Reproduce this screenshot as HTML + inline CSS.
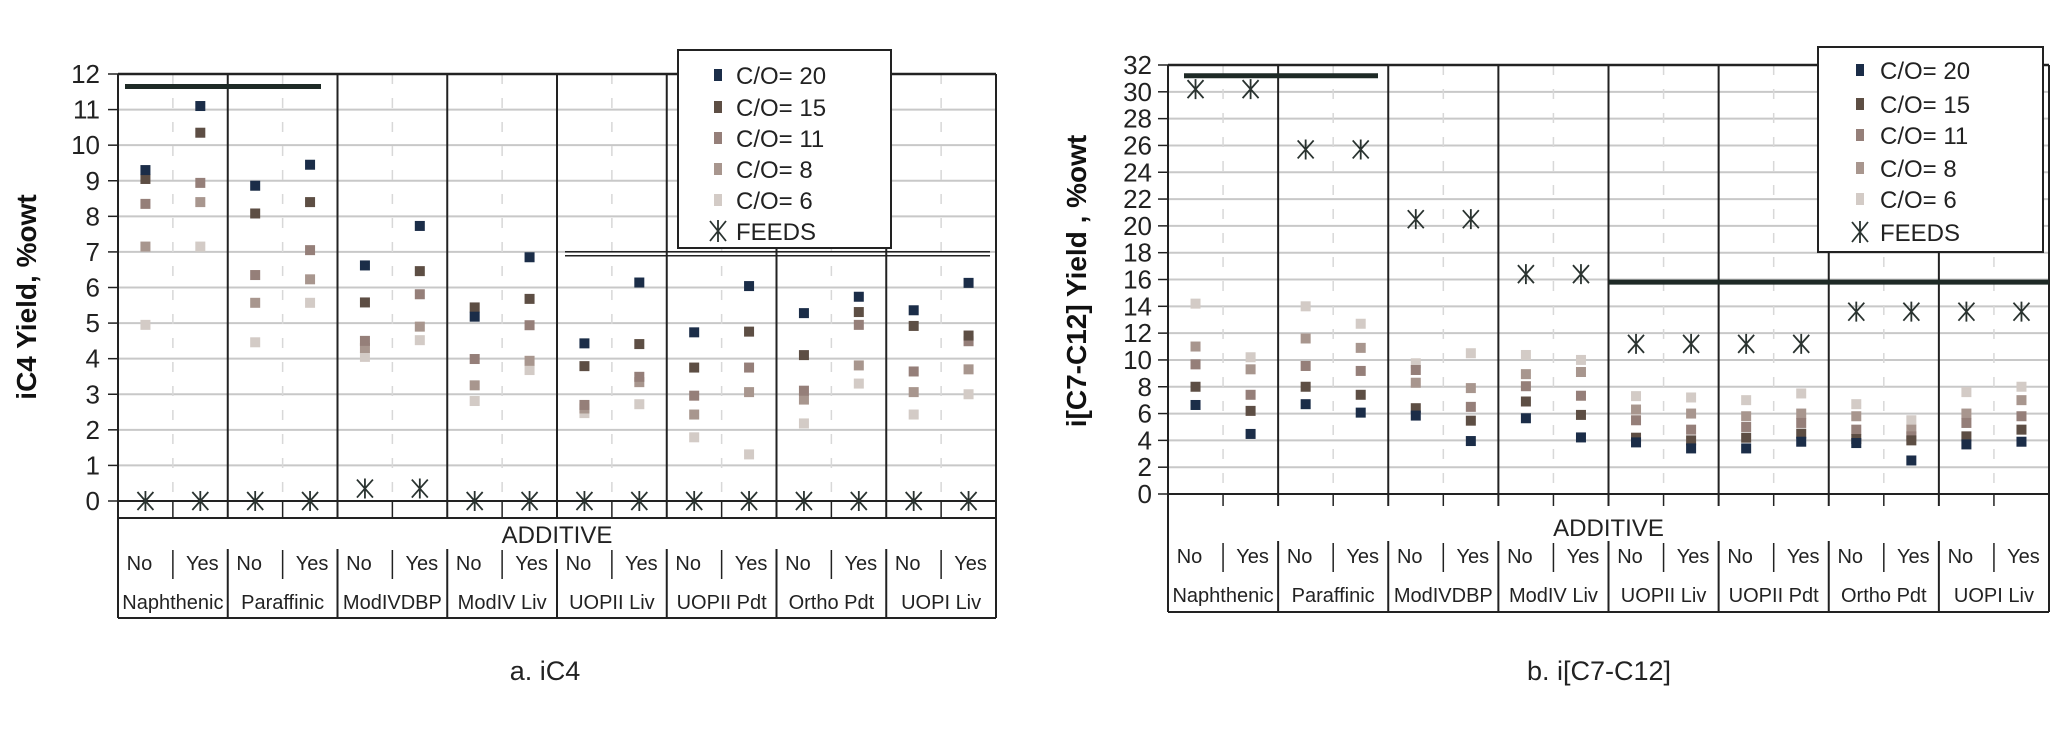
<!DOCTYPE html>
<html><head><meta charset="utf-8">
<style>
html,body{margin:0;padding:0;background:#fff;}
svg{display:block;font-family:"Liberation Sans",sans-serif;}
</style></head>
<body>
<svg id="chart" width="2062" height="752" viewBox="0 0 2062 752" xmlns="http://www.w3.org/2000/svg"></svg>
<script>
const categories = ["Naphthenic","Paraffinic","ModIVDBP","ModIV Liv","UOPII Liv","UOPII Pdt","Ortho Pdt","UOPI Liv"];
const additive = ["No","Yes"];
const seriesNames = ["C/O= 20","C/O= 15","C/O= 11","C/O= 8","C/O= 6"];
const seriesColors = ["#1b2d48","#5d4e44","#957f79","#a8968e","#d3cbc6"];
// Chart a: iC4 — 16 points per series (group x No/Yes)
const a_co20 = [9.3,11.1,8.86,9.45,6.62,7.73,5.18,6.85,4.43,6.14,4.74,6.04,5.28,5.74,5.36,6.13];
const a_co15 = [9.05,10.35,8.08,8.4,5.58,6.46,5.44,5.68,3.79,4.41,3.75,4.76,4.1,5.31,4.92,4.65];
const a_co11 = [8.35,8.94,6.35,7.05,4.5,5.81,3.99,4.94,2.7,3.49,2.96,3.75,3.1,4.95,3.64,4.49];
const a_co8 = [7.15,8.4,5.57,6.23,4.3,4.9,3.25,3.94,2.6,3.34,2.43,3.06,2.85,3.81,3.06,3.7];
const a_co6 = [4.95,7.15,4.46,5.57,4.05,4.52,2.81,3.68,2.47,2.72,1.79,1.31,2.18,3.3,2.43,3.0];
const a_feeds = [0,0,0,0,0.35,0.35,0,0,0,0,0,0,0,0,0,0];
const a_ticks = [0,1,2,3,4,5,6,7,8,9,10,11,12];
// Chart b: i[C7-C12]
const b_co20 = [6.64,4.48,6.7,6.07,5.85,3.95,5.65,4.22,3.85,3.4,3.4,3.9,3.8,2.5,3.7,3.9];
const b_co15 = [8.0,6.2,8.0,7.4,6.4,5.47,6.9,5.9,4.2,4.0,4.2,4.5,4.1,4.0,4.3,4.8];
const b_co11 = [9.67,7.4,9.55,9.18,9.25,6.5,8.04,7.33,5.5,4.8,5.0,5.3,4.8,4.3,5.3,5.8];
const b_co8 = [11.0,9.3,11.6,10.9,8.3,7.9,8.94,9.1,6.3,6.0,5.8,6.0,5.8,4.8,6.0,7.0];
const b_co6 = [14.2,10.2,14.0,12.7,9.75,10.5,10.37,10.0,7.3,7.2,7.0,7.5,6.7,5.5,7.6,8.0];
const b_feeds = [30.2,30.2,25.7,25.7,20.5,20.5,16.4,16.4,11.2,11.2,11.2,11.2,13.6,13.6,13.6,13.6];
const b_ticks = [0,2,4,6,8,10,12,14,16,18,20,22,24,26,28,30,32];

const NS="http://www.w3.org/2000/svg";
const svg=document.getElementById('chart');
function mk(tag,attrs,parent,text){const e=document.createElementNS(NS,tag);for(const k in attrs)e.setAttribute(k,attrs[k]);if(text!==undefined)e.textContent=text;(parent||svg).appendChild(e);return e;}

function drawChart(cfg,series,feeds,ticks){
  const g=mk('g',{});
  
  
  const L=cfg.left,R=cfg.right,T=cfg.top,B=cfg.bottom,ymax=cfg.ymax;
  const yS=v=>B-(v/ymax)*(B-T);
  const gw=(R-L)/categories.length;
  const xS=i=>L+Math.floor(i/2)*gw+(i%2===0?0.25:0.75)*gw;
  ticks.forEach(t=>{
    if(t>0&&t<ymax){const l=mk('line',{x1:L,x2:R,y1:yS(t),y2:yS(t),stroke:'#c8c8c8','stroke-width':2},g);
    
    }
    mk('line',{x1:L-10,x2:L,y1:yS(t),y2:yS(t),stroke:'#222','stroke-width':1.5},g);
    const tx=mk('text',{x:cfg.tickRight,y:yS(t)+9,'text-anchor':'end','font-size':26,fill:'#222'},g,String(t));
    
    
  });
  for(let c=0;c<categories.length;c++){
    const mx=L+c*gw+gw/2;
    mk('line',{x1:mx,x2:mx,y1:T,y2:B,stroke:'#d8d8d8','stroke-width':1.5,'stroke-dasharray':'10,14'},g);
    mk('line',{x1:mx,x2:mx,y1:B,y2:B+cfg.tickLen,stroke:'#222','stroke-width':1.5},g);
  }
  for(let c=0;c<=categories.length;c++){
    const x=L+c*gw;
    mk('line',{x1:x,x2:x,y1:T,y2:B+cfg.tickLen,stroke:'#222','stroke-width':2},g);
    mk('line',{x1:x,x2:x,y1:cfg.rowTop,y2:cfg.boxBottom,stroke:'#222','stroke-width':2},g);
  }
  mk('line',{x1:L,x2:R,y1:T,y2:T,stroke:'#222','stroke-width':2.5},g);
  mk('line',{x1:L,x2:R,y1:B,y2:B,stroke:'#222','stroke-width':2},g);
  if(cfg.underLine) mk('line',{x1:L,x2:R,y1:B+cfg.tickLen,y2:B+cfg.tickLen,stroke:'#222','stroke-width':2},g);
  mk('line',{x1:L,x2:R,y1:cfg.boxBottom,y2:cfg.boxBottom,stroke:'#222','stroke-width':2},g);
  mk('line',{x1:L,x2:L,y1:B,y2:cfg.boxBottom,stroke:'#222','stroke-width':2},g);
  mk('line',{x1:R,x2:R,y1:B,y2:cfg.boxBottom,stroke:'#222','stroke-width':2},g);
  cfg.refs.forEach(r=>{
    if(r.double){
      mk('line',{x1:r.x1,x2:r.x2,y1:yS(r.v)-2,y2:yS(r.v)-2,stroke:'#222','stroke-width':1.5},g);
      mk('line',{x1:r.x1,x2:r.x2,y1:yS(r.v)+2,y2:yS(r.v)+2,stroke:'#222','stroke-width':1.5},g);
    } else mk('line',{x1:r.x1,x2:r.x2,y1:yS(r.v),y2:yS(r.v),stroke:'#1e2a26','stroke-width':5},g);
  });
  const ad=mk('text',{x:(L+R)/2,y:cfg.addY,'text-anchor':'middle','font-size':24,fill:'#222'},g,'ADDITIVE');
  
  
  for(let i=0;i<categories.length*2;i++){
    const t=mk('text',{x:xS(i)+(i%2?2:-6),y:cfg.noY+7,'text-anchor':'middle','font-size':20,fill:'#222'},g,additive[i%2]);
    
    
    if(i%2){const sx=L+Math.floor(i/2)*gw+gw/2;mk('line',{x1:sx,x2:sx,y1:cfg.noY-13,y2:cfg.noY+16,stroke:'#222','stroke-width':1.5},g);}
  }
  categories.forEach((c,ci)=>{
    const t=mk('text',{x:L+ci*gw+gw/2,y:cfg.nameY+7,'text-anchor':'middle','font-size':20,fill:'#222'},g,c);
    
    
  });
  const yt=mk('text',{x:0,y:0,transform:`translate(${cfg.titleX},${cfg.titleY}) rotate(-90)`,'text-anchor':'middle','font-size':28,'font-weight':'bold',fill:'#111'},g,cfg.title);
  
  
  for(let s=series.length-1;s>=0;s--){
    series[s].forEach((v,i)=>{
      const r=mk('rect',{x:xS(i)-5,y:yS(v)-5,width:10,height:10,fill:seriesColors[s]},g);
      
      
    });
  }
  feeds.forEach((v,i)=>{
    const x=xS(i),y=yS(v);
    const f=mk('path',{d:`M${x-8},${y-9}L${x+8},${y+9}M${x+8},${y-9}L${x-8},${y+9}M${x},${y-10}L${x},${y+10}`,stroke:'#2a3330','stroke-width':1.8,fill:'none'},g);
    
    
  });
  const lg=cfg.legend;
  const lgG=mk('g',{},g);
  
  
  mk('rect',{x:lg.x,y:lg.y,width:lg.w,height:lg.h,fill:'#fff',stroke:'#222','stroke-width':2},lgG);
  seriesNames.forEach((n,s)=>{
    const yy=lg.rows[s];
    mk('rect',{x:lg.x+lg.mx-4,y:yy-6,width:8,height:12,fill:seriesColors[s]},lgG);
    const t=mk('text',{x:lg.x+lg.tx,y:yy+9,'font-size':24,fill:'#222'},lgG,n);
    
    
  });
  const fy=lg.rows[5],fx=lg.x+lg.mx;
  mk('path',{d:`M${fx-8},${fy-10}L${fx+8},${fy+10}M${fx+8},${fy-10}L${fx-8},${fy+10}M${fx},${fy-11}L${fx},${fy+11}`,stroke:'#2a3330','stroke-width':1.8,fill:'none'},lgG);
  const ft=mk('text',{x:lg.x+lg.tx,y:fy+9,'font-size':24,fill:'#222'},lgG,'FEEDS');
  
  
  const cap=mk('text',{x:cfg.capX,y:680,'text-anchor':'middle','font-size':27,fill:'#222'},g,cfg.caption);
  
  
}

drawChart({name:'chart-ic4',left:118,right:996,top:74,bottom:501,ymax:12,tickRight:100,tickLen:17,underLine:true,addY:543,rowTop:549,boxBottom:618,noY:563,nameY:602,
  title:'iC4 Yield, %owt',titleX:36,titleY:297,caption:'a. iC4',capX:545,
  refs:[{x1:125,x2:321,v:11.65},{x1:565,x2:990,v:6.95,double:true}],
  legend:{x:678,y:50,w:213,h:198,mx:40,tx:58,rows:[75,107,138,169,200,231]}},
  [a_co20,a_co15,a_co11,a_co8,a_co6],a_feeds,a_ticks);

drawChart({name:'chart-ic7-c12',left:1168,right:2049,top:65,bottom:494,ymax:32,tickRight:1152,tickLen:12,underLine:false,addY:536,rowTop:541,boxBottom:612,noY:556,nameY:595,
  title:'i[C7-C12] Yield , %owt',titleX:1086,titleY:281,caption:'b. i[C7-C12]',capX:1599,
  refs:[{x1:1184,x2:1378,v:31.2},{x1:1609,x2:2049,v:15.8}],
  legend:{x:1818,y:47,w:225,h:205,mx:42,tx:62,rows:[70,104,135,168,199,232]}},
  [b_co20,b_co15,b_co11,b_co8,b_co6],b_feeds,b_ticks);
</script>
</body></html>
